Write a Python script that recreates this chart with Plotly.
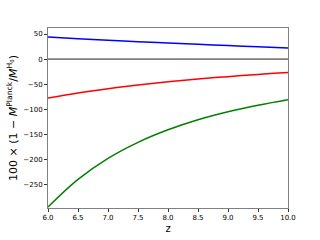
import plotly.graph_objects as go

# values
z = [6.0, 6.5, 7.0, 7.5, 8.0, 8.5, 9.0, 9.5, 10.0]
blue_vals = [44, 40.5, 37.5, 34.5, 32, 29.5, 27, 24.5, 22]
red_vals = [-77.5, -67.5, -59, -51.5, -45, -39.5, -35, -30.5, -27]
green_vals = [-295, -240, -198, -166, -141, -121, -105, -92, -81]

fig = go.Figure()
fig.add_hline(y=0, line=dict(color="#7f7f7f", width=1.8))
for vals, col in [(blue_vals, "blue"), (red_vals, "red"), (green_vals, "green")]:
    fig.add_trace(go.Scatter(
        x=z, y=vals, mode="lines",
        line=dict(color=col, width=1.5, shape="spline", smoothing=1.0),
        showlegend=False,
    ))

axis_common = dict(
    showgrid=False, zeroline=False, automargin=False,
    showline=True, linecolor="#808080", linewidth=1, mirror=True,
    ticks="outside", ticklen=3, tickcolor="#333", tickwidth=0.8,
    tickfont=dict(family="DejaVu Sans", size=7, color="black"),
)
fig.update_layout(
    width=320, height=240,
    paper_bgcolor="white", plot_bgcolor="white",
    margin=dict(l=48, r=32, t=28, b=32),
    font=dict(family="DejaVu Sans", color="black"),
    xaxis=dict(
        range=[6, 10], tickvals=[6, 6.5, 7, 7.5, 8, 8.5, 9, 9.5, 10],
        tickformat=".1f",
        title=dict(text="z", font=dict(size=10), standoff=3),
        **axis_common,
    ),
    yaxis=dict(
        range=[-297, 62], tickvals=[50, 0, -50, -100, -150, -200, -250],
        ticktext=["50", "0", "\u221250", "\u2212100", "\u2212150", "\u2212200", "\u2212250"],
        title=dict(
            text="100 \u00d7 (1 \u2212 <i>M</i><sup>Planck</sup>/<i>M</i><sup>H<sub>0</sub></sup>)",
            font=dict(size=11), standoff=3,
        ),
        **axis_common,
    ),
)

# the page's default body margin would shift the chart
fig.write_html("out.html", config={"displayModeBar": False},
               post_script="document.body.style.margin='0';")
